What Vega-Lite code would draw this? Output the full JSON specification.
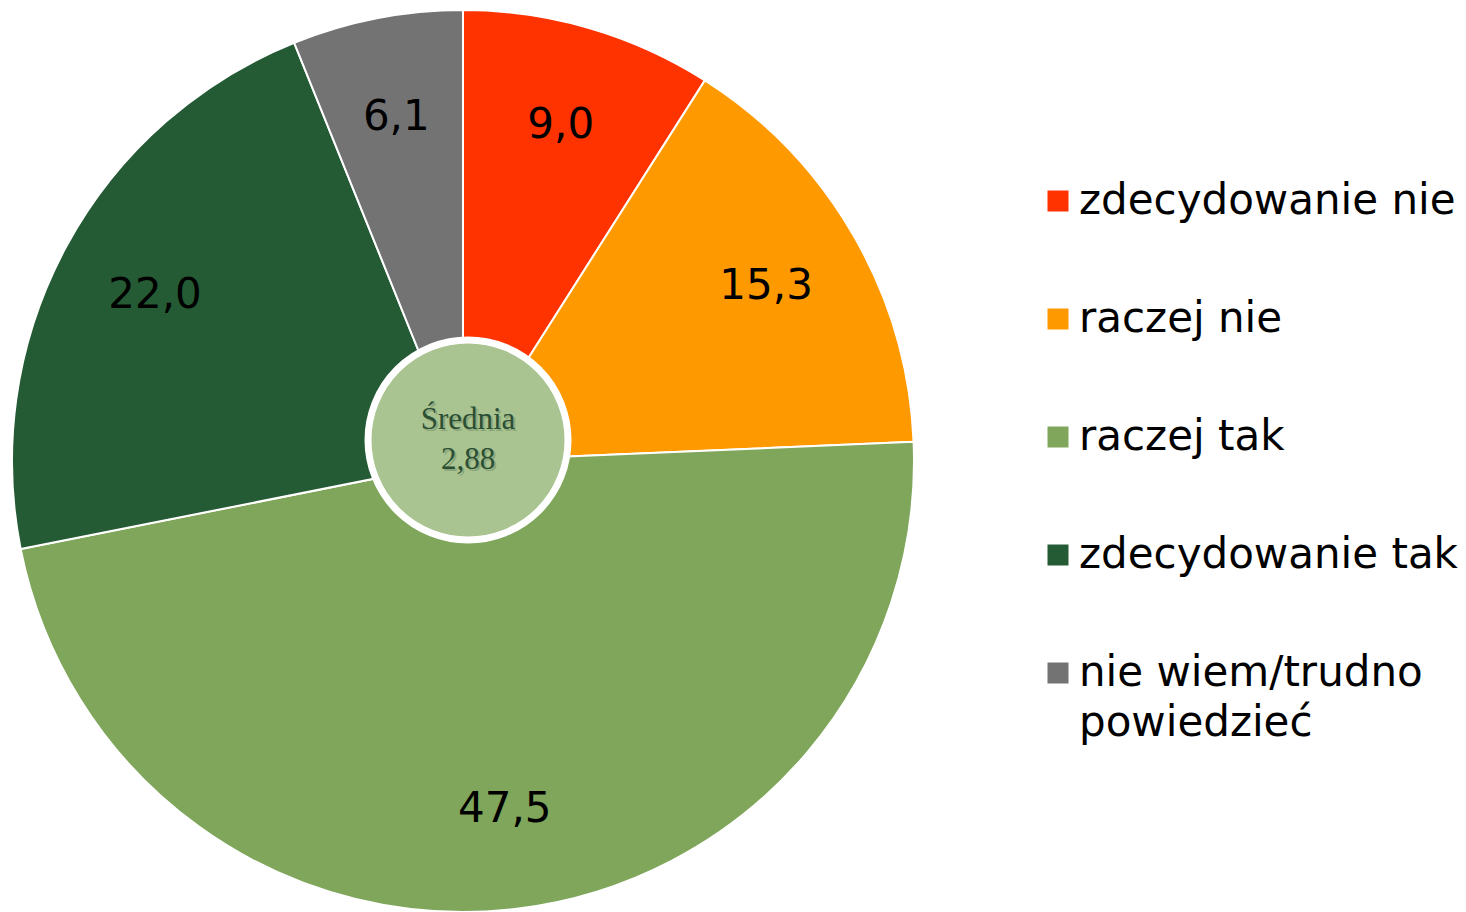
{
  "$schema": "https://vega.github.io/schema/vega-lite/v6.json",
  "width": 926,
  "height": 922,
  "autosize": "none",
  "padding": {"left": 0, "top": 0, "right": 540, "bottom": 0},
  "background": "white",
  "config": {"view": {"stroke": null}, "style": {"guide-label": {"lineHeight": 50}}},
  "datasets": {
    "slices": [
      {"category": "zdecydowanie nie", "value": 9.0, "label": "9,0", "ord": 1},
      {"category": "raczej nie", "value": 15.3, "label": "15,3", "ord": 2},
      {"category": "raczej tak", "value": 47.5, "label": "47,5", "ord": 3},
      {"category": "zdecydowanie tak", "value": 22.0, "label": "22,0", "ord": 4},
      {"category": "nie wiem/trudno powiedzieć", "value": 6.1, "label": "6,1", "ord": 5}
    ]
  },
  "resolve": {"scale": {"theta": "independent"}},
  "layer": [
    {
      "data": {"name": "slices"},
      "mark": {"type": "arc", "outerRadius": 451, "stroke": "white", "strokeWidth": 2},
      "encoding": {
        "theta": {"field": "value", "type": "quantitative", "stack": true},
        "order": {"field": "ord", "type": "quantitative"},
        "color": {
          "field": "category",
          "type": "nominal",
          "sort": ["zdecydowanie nie", "raczej nie", "raczej tak", "zdecydowanie tak", "nie wiem/trudno powiedzieć"],
          "scale": {
            "domain": ["zdecydowanie nie", "raczej nie", "raczej tak", "zdecydowanie tak", "nie wiem/trudno powiedzieć"],
            "range": ["#FF3300", "#FF9900", "#7FA65A", "#245B34", "#737373"]
          },
          "legend": {
            "orient": "none",
            "legendX": 1037,
            "legendY": 180,
            "title": null,
            "symbolType": "square",
            "symbolSize": 441,
            "symbolStrokeWidth": 0,
            "labelFont": "DejaVu Sans",
            "labelFontSize": 42,
            "labelColor": "black",
            "labelOffset": 0,
            "labelLimit": 600,
            "rowPadding": 76,
            "labelExpr": "datum.label == 'nie wiem/trudno powiedzieć' ? ['nie wiem/trudno', 'powiedzieć'] : datum.label"
          }
        }
      }
    },
    {
      "data": {"name": "slices"},
      "mark": {"type": "text", "radius": 350, "font": "DejaVu Sans", "fontSize": 42, "color": "black"},
      "encoding": {
        "theta": {"field": "value", "type": "quantitative", "stack": true},
        "order": {"field": "ord", "type": "quantitative"},
        "text": {"field": "label", "type": "nominal"}
      }
    },
    {
      "data": {"values": [{"v": 1}]},
      "mark": {"type": "arc", "outerRadius": 100, "fill": "#A9C490", "stroke": "white", "strokeWidth": 7, "xOffset": 5, "yOffset": -21},
      "encoding": {"theta": {"field": "v", "type": "quantitative"}}
    },
    {
      "data": {"values": [{"t": "Średnia\n2,88"}]},
      "mark": {"type": "text", "lineBreak": "\n", "font": "Liberation Serif", "fontSize": 31, "lineHeight": 40, "color": "#6F8A66", "opacity": 0.5, "xOffset": 7, "yOffset": -39},
      "encoding": {"text": {"field": "t", "type": "nominal"}}
    },
    {
      "data": {"values": [{"t": "Średnia\n2,88"}]},
      "mark": {"type": "text", "lineBreak": "\n", "font": "Liberation Serif", "fontSize": 31, "lineHeight": 40, "color": "#2B4F35", "xOffset": 5, "yOffset": -41},
      "encoding": {"text": {"field": "t", "type": "nominal"}}
    }
  ]
}
